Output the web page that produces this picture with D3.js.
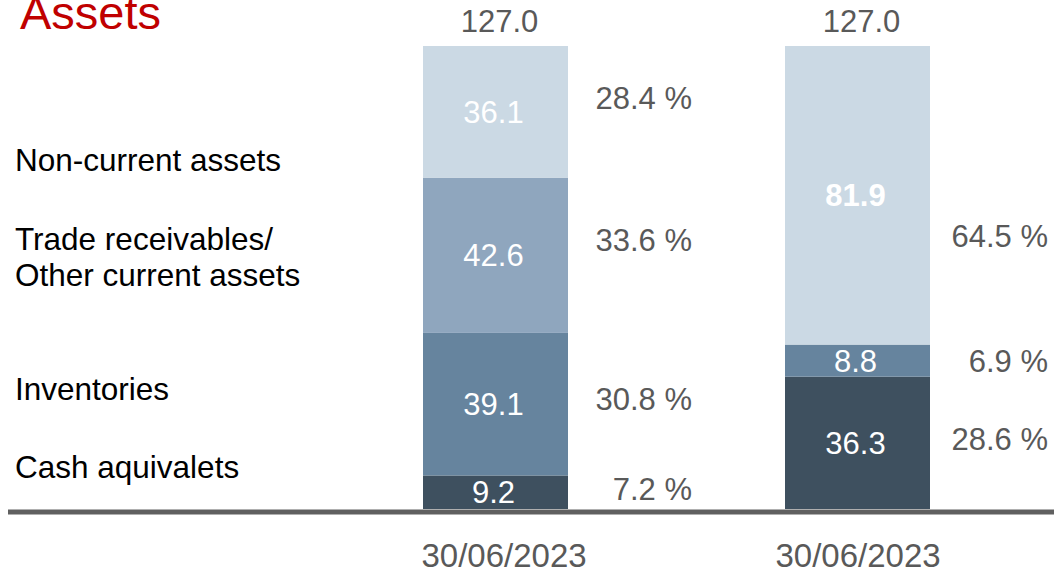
<!DOCTYPE html>
<html>
<head>
<meta charset="utf-8">
<script src="https://cdn.jsdelivr.net/npm/d3@7"></script>
<style>
  html, body { margin: 0; padding: 0; background: #fff; }
  svg { display: block; font-family: "Liberation Sans", Arial, sans-serif; }
</style>
</head>
<body>
<svg id="chart" width="1054" height="572"></svg>
<script>
// Balance sheet, asset side — two reporting dates
const periods = ["30/06/2023", "30/06/2023"];
const totals = [127.0, 127.0];

// Stack order: bottom to top
const categories = ["Cash aquivalets", "Inventories", "Trade receivables/\nOther current assets", "Non-current assets"];
const cashValues = [9.2, 36.3];
const inventoryValues = [39.1, 8.8];
const receivableValues = [42.6, 0];
const nonCurrentValues = [36.1, 81.9];

// Share of total, as printed next to each segment
const cashShare = [7.2, 28.6];
const inventoryShare = [30.8, 6.9];
const receivableShare = [33.6, null];
const nonCurrentShare = [28.4, 64.5];

const seriesValues = [cashValues, inventoryValues, receivableValues, nonCurrentValues];
const seriesShare = [cashShare, inventoryShare, receivableShare, nonCurrentShare];

// Styling / layout
const colors = ["#3e505f", "#66849e", "#8fa6be", "#cbd9e4"];
const boldValues = [[false, false], [false, false], [false, false], [false, true]];
const shareNudge = [[-3, -4], [-5, 0], [-15, 0], [-14, 41]];
const shareGap = [124, 118];
const categoryNudge = [-26, -16, 1, 48];

const svg = d3.select("#chart");
const baseY = 509;
const barW = 145;

const y = d3.scaleLinear().domain([0, 127]).range([baseY, 46]);
const x = d3.scalePoint().domain(d3.range(periods.length)).range([495.5, 857.5]);

// Stack data
const table = periods.map((p, i) => {
  const row = { idx: i };
  seriesValues.forEach((s, k) => { row["s" + k] = s[i]; });
  return row;
});
const stack = d3.stack().keys(seriesValues.map((_, k) => "s" + k));
const layers = stack(table);

// Title
svg.append("text")
  .attr("x", 20).attr("y", 29)
  .attr("fill", "#c00000")
  .attr("font-size", 47)
  .text("Assets");

// Bars
const g = svg.append("g");
layers.forEach((layer, k) => {
  layer.forEach((d, i) => {
    if (d[1] - d[0] <= 0) return;
    g.append("rect")
      .attr("x", x(i) - barW / 2)
      .attr("y", y(d[1]))
      .attr("width", barW)
      .attr("height", y(d[0]) - y(d[1]))
      .attr("fill", colors[k]);

    const mid = y((d[0] + d[1]) / 2);
    g.append("text")
      .attr("x", x(i) - 2)
      .attr("y", mid)
      .attr("dy", "0.36em")
      .attr("text-anchor", "middle")
      .attr("fill", "#ffffff")
      .attr("font-size", 31)
      .attr("font-weight", boldValues[k][i] ? "bold" : "normal")
      .text(d3.format(".1f")(d[1] - d[0]));

    const share = seriesShare[k][i];
    if (share != null) {
      g.append("text")
        .attr("x", x(i) + barW / 2 + shareGap[i])
        .attr("y", mid + shareNudge[k][i])
        .attr("dy", "0.36em")
        .attr("text-anchor", "end")
        .attr("fill", "#595959")
        .attr("font-size", 31)
        .text(d3.format(".1f")(share) + " %");
    }
  });
});

// Totals above bars
totals.forEach((t, i) => {
  svg.append("text")
    .attr("x", x(i) + 4).attr("y", 32)
    .attr("text-anchor", "middle")
    .attr("fill", "#595959")
    .attr("font-size", 31)
    .text(d3.format(".1f")(t));
});

// Category labels, aligned with the first bar's segments
layers.forEach((layer, k) => {
  const d = layer[0];
  const mid = y((d[0] + d[1]) / 2) + categoryNudge[k];
  const lines = categories[k].split("\n");
  const lh = 36;
  const t = svg.append("text")
    .attr("x", 15)
    .attr("fill", "#000000")
    .attr("font-size", 31.5);
  lines.forEach((ln, j) => {
    t.append("tspan")
      .attr("x", 15)
      .attr("y", mid + (j - (lines.length - 1) / 2) * lh)
      .attr("dy", "0.36em")
      .text(ln);
  });
});

// Baseline
svg.append("line")
  .attr("x1", 8).attr("x2", 1054)
  .attr("y1", baseY + 3).attr("y2", baseY + 3)
  .attr("stroke", "#606060")
  .attr("stroke-width", 5);

// Date axis labels
const xAxis = d3.axisBottom(x).tickSize(0).tickFormat(i => periods[i]);
const ax = svg.append("g")
  .attr("transform", `translate(0, ${baseY + 6})`)
  .call(xAxis);
ax.select(".domain").remove();
ax.selectAll("text")
  .attr("font-size", 33)
  .attr("font-family", "Liberation Sans, Arial, sans-serif")
  .attr("fill", "#595959")
  .attr("dy", 0)
  .attr("x", (i) => i === 0 ? 8 : 0)
  .attr("y", 52);
</script>
</body>
</html>
